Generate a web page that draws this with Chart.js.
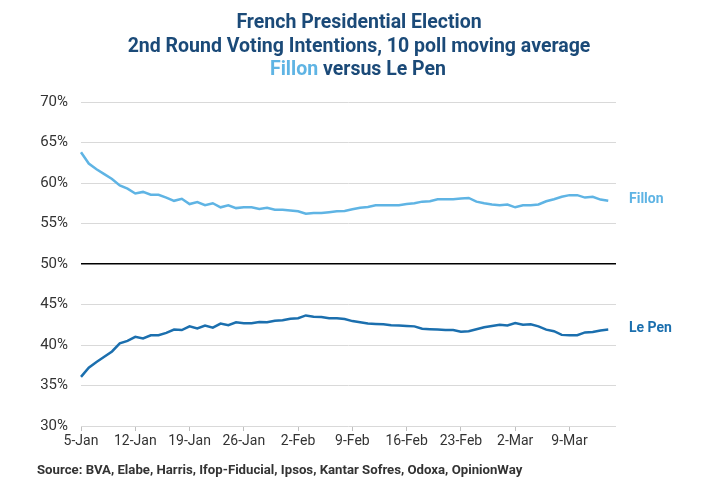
<!DOCTYPE html>
<html>
<head>
<meta charset="utf-8">
<script src="https://cdn.jsdelivr.net/npm/chart.js@4"></script>
<style>
html,body{margin:0;padding:0;background:#fff;}
#wrap{width:720px;height:500px;position:relative;}
</style>
</head>
<body>
<div id="wrap"><canvas id="c" width="720" height="500"></canvas></div>
<script>
const categories = ['5-Jan','6-Jan','7-Jan','8-Jan','9-Jan','10-Jan','11-Jan','12-Jan','13-Jan','14-Jan','15-Jan','16-Jan','17-Jan','18-Jan','19-Jan','20-Jan','21-Jan','22-Jan','23-Jan','24-Jan','25-Jan','26-Jan','27-Jan','28-Jan','29-Jan','30-Jan','31-Jan','1-Feb','2-Feb','3-Feb','4-Feb','5-Feb','6-Feb','7-Feb','8-Feb','9-Feb','10-Feb','11-Feb','12-Feb','13-Feb','14-Feb','15-Feb','16-Feb','17-Feb','18-Feb','19-Feb','20-Feb','21-Feb','22-Feb','23-Feb','24-Feb','25-Feb','26-Feb','27-Feb','28-Feb','1-Mar','2-Mar','3-Mar','4-Mar','5-Mar','6-Mar','7-Mar','8-Mar','9-Mar','10-Mar','11-Mar','12-Mar','13-Mar','14-Mar','15-Mar'];
const tickLabels = ['5-Jan','12-Jan','19-Jan','26-Jan','2-Feb','9-Feb','16-Feb','23-Feb','2-Mar','9-Mar'];
const fillon = [63.8,62.4,61.7,61.1,60.5,59.7,59.3,58.7,58.9,58.55,58.55,58.2,57.8,58.05,57.4,57.65,57.25,57.5,57.0,57.25,56.9,57.0,57.0,56.8,56.95,56.7,56.7,56.6,56.5,56.2,56.3,56.3,56.4,56.5,56.55,56.75,56.95,57.05,57.25,57.25,57.25,57.25,57.4,57.5,57.7,57.75,58.0,58.0,58.0,58.1,58.15,57.7,57.5,57.35,57.25,57.35,57.0,57.25,57.25,57.35,57.75,58.0,58.3,58.5,58.5,58.2,58.3,57.95,57.8,null];
const lePen = [36.07,37.2,37.9,38.55,39.2,40.2,40.5,41.0,40.8,41.2,41.2,41.5,41.9,41.85,42.3,42.05,42.4,42.15,42.65,42.45,42.8,42.7,42.7,42.85,42.8,43.0,43.05,43.25,43.3,43.65,43.5,43.45,43.3,43.3,43.2,42.95,42.8,42.65,42.6,42.55,42.45,42.4,42.35,42.3,42.0,41.95,41.9,41.85,41.85,41.65,41.7,41.95,42.2,42.35,42.5,42.4,42.7,42.5,42.55,42.3,41.9,41.7,41.25,41.2,41.2,41.55,41.6,41.8,41.9,null];
const seriesNames = ['Fillon','Le Pen'];
const titleLines = ['French Presidential Election','2nd Round Voting Intentions, 10 poll moving average'];
const sourceText = 'Source: BVA, Elabe, Harris, Ifop-Fiducial, Ipsos, Kantar Sofres, Odoxa, OpinionWay';

const FILLON_COLOR = '#5fb4e4';
const LEPEN_COLOR = '#1b6fae';
const NAVY = '#1b4a78';
const FONT = 'Roboto, "Liberation Sans", sans-serif';

const overlay = {
  id: 'overlay',
  afterDraw(chart) {
    const ctx = chart.ctx;
    ctx.save();
    ctx.textBaseline = 'middle';
    ctx.font = 'bold 19.5px ' + FONT;
    ctx.fillStyle = NAVY;
    ctx.textAlign = 'center';
    ctx.fillText(titleLines[0], 359, 23);
    ctx.fillText(titleLines[1], 359, 47);
    const a = seriesNames[0], b = ' versus ' + seriesNames[1];
    const wa = ctx.measureText(a).width, wb = ctx.measureText(b).width;
    const x0 = 358 - (wa + wb) / 2;
    ctx.textAlign = 'left';
    ctx.fillStyle = FILLON_COLOR;
    ctx.fillText(a, x0, 70);
    ctx.fillStyle = NAVY;
    ctx.fillText(b, x0 + wa, 70);
    ctx.font = 'bold 14px ' + FONT;
    const ys = chart.scales.y;
    ctx.fillStyle = FILLON_COLOR;
    ctx.fillText(seriesNames[0], 629, ys.getPixelForValue(fillon[fillon.length - 2]) - 1);
    ctx.fillStyle = LEPEN_COLOR;
    ctx.fillText(seriesNames[1], 629, ys.getPixelForValue(lePen[lePen.length - 2]) - 1);
    ctx.font = 'bold 13.2px ' + FONT;
    ctx.fillStyle = '#333333';
    ctx.fillText(sourceText, 37, 471);
    ctx.restore();
  }
};

new Chart(document.getElementById('c'), {
  type: 'line',
  data: {
    labels: categories,
    datasets: [
      { label: seriesNames[0], data: fillon, borderColor: FILLON_COLOR, borderWidth: 2.5, pointRadius: 0, tension: 0, fill: false },
      { label: seriesNames[1], data: lePen, borderColor: LEPEN_COLOR, borderWidth: 2.5, pointRadius: 0, tension: 0, fill: false }
    ]
  },
  options: {
    responsive: false,
    animation: false,
    devicePixelRatio: 1,
    layout: { padding: { left: 0, right: 104, top: 102, bottom: 0 } },
    plugins: { legend: { display: false }, tooltip: { enabled: false }, title: { display: false } },
    scales: {
      x: {
        type: 'category',
        offset: false,
        border: { display: false },
        grid: {
          drawOnChartArea: false,
          drawTicks: true,
          tickLength: 5,
          color: (c) => (c.tick && tickLabels.includes(categories[c.index])) ? '#bfbfbf' : 'rgba(0,0,0,0)'
        },
        ticks: {
          autoSkip: false,
          maxRotation: 0,
          minRotation: 0,
          padding: 2,
          color: '#333333',
          font: { family: FONT, size: 14 },
          callback: function(v, i) { const l = categories[i]; return tickLabels.includes(l) ? l : ''; }
        },
        afterFit: (s) => { s.height = 74; }
      },
      y: {
        min: 30,
        max: 70,
        border: { display: false },
        grid: {
          drawTicks: false,
          color: (c) => c.tick && c.tick.value === 50 ? '#000000' : '#d9d9d9',
          lineWidth: (c) => c.tick && c.tick.value === 50 ? 1.5 : 1
        },
        ticks: {
          stepSize: 5,
          padding: 13,
          color: '#333333',
          font: { family: FONT, size: 15 },
          callback: (v) => v + '%'
        },
        afterFit: (s) => { s.width = 81; }
      }
    }
  },
  plugins: [overlay]
});
</script>
</body>
</html>
